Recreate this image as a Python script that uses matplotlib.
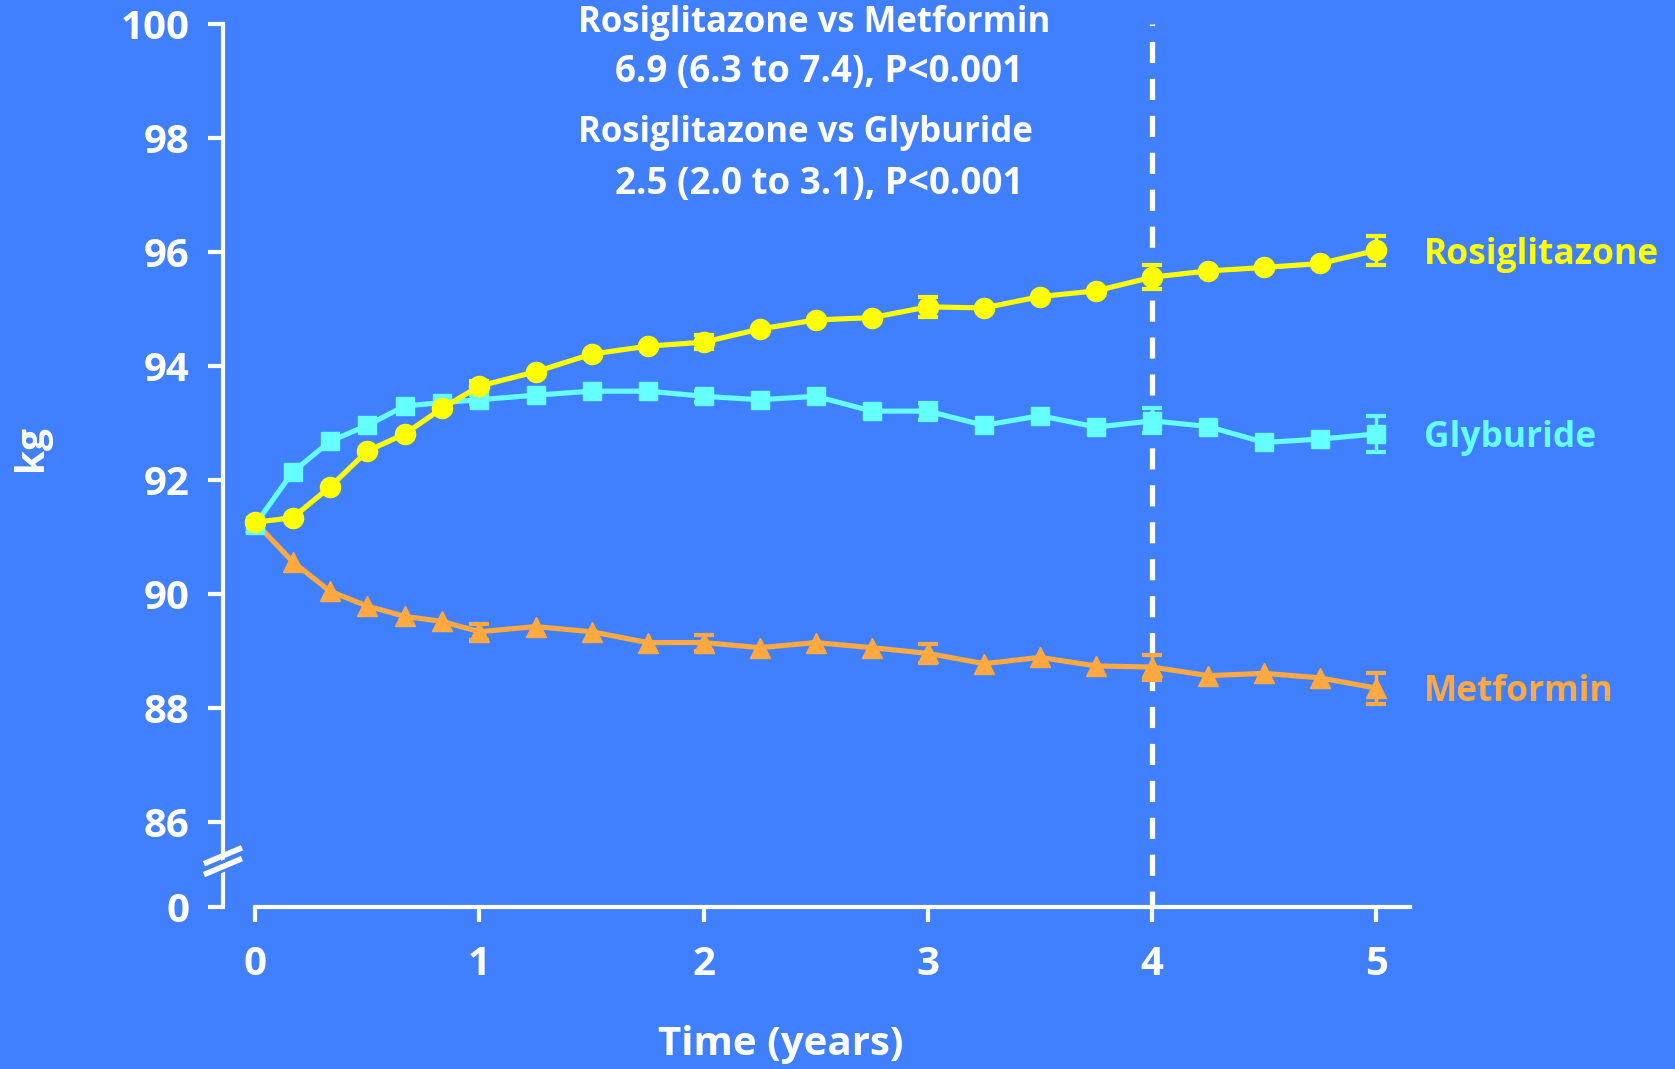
import matplotlib
matplotlib.use("Agg")
import matplotlib.pyplot as plt
import numpy as np

# Time points: every 2 months in year 1, then quarterly
years = [0, 1/6, 2/6, 3/6, 4/6, 5/6, 1, 1.25, 1.5, 1.75, 2, 2.25, 2.5, 2.75,
         3, 3.25, 3.5, 3.75, 4, 4.25, 4.5, 4.75, 5]

rosiglitazone = [91.25, 91.33, 91.87, 92.50, 92.80, 93.25, 93.64, 93.89, 94.20,
                 94.34, 94.41, 94.64, 94.80, 94.84, 95.03, 95.01, 95.21, 95.31,
                 95.55, 95.66, 95.72, 95.79, 96.02]
glyburide = [91.21, 92.13, 92.67, 92.95, 93.29, 93.35, 93.40, 93.48, 93.55,
             93.55, 93.46, 93.40, 93.46, 93.20, 93.20, 92.95, 93.12, 92.92,
             93.03, 92.93, 92.65, 92.71, 92.80]
metformin = [91.25, 90.56, 90.04, 89.78, 89.60, 89.51, 89.33, 89.42, 89.33,
             89.14, 89.14, 89.05, 89.14, 89.05, 88.95, 88.77, 88.88, 88.73,
             88.71, 88.56, 88.60, 88.52, 88.34]

# error bars shown at whole years only
err_years = [1, 2, 3, 4, 5]
rosi_err = [0.08, 0.12, 0.18, 0.21, 0.26]
gly_err = [0.08, 0.10, 0.15, 0.22, 0.31]
met_err = [0.14, 0.14, 0.16, 0.22, 0.27]

series_names = ["Rosiglitazone", "Glyburide", "Metformin"]
annot_lines = ["Rosiglitazone vs Metformin", "6.9 (6.3 to 7.4), P<0.001",
               "Rosiglitazone vs Glyburide", "2.5 (2.0 to 3.1), P<0.001"]

ytick_vals = [84.5, 86, 88, 90, 92, 94, 96, 98, 100]
ytick_labels = ["0", "86", "88", "90", "92", "94", "96", "98", "100"]
xtick_vals = [0, 1, 2, 3, 4, 5]

bg = "#4080FF"
c_rosi = "#FFFF00"
c_gly = "#66FFFF"
c_met = "#FFA940"

plt.rcParams['font.family'] = ['Open Sans', 'DejaVu Sans']
plt.rcParams['font.weight'] = 'bold'

fig = plt.figure(figsize=(16.75, 10.69), dpi=100, facecolor=bg)
ax = fig.add_axes([0.1331, 0.1515, 0.7087, 0.8265])
ax.set_facecolor(bg)

ax.set_xlim(-0.144, 5.15)
ax.set_ylim(84.5, 100)

lw = 3.7
ax.plot(years, rosiglitazone, color=c_rosi, lw=lw, marker='o', ms=14.5, zorder=5)
ax.plot(years, glyburide, color=c_gly, lw=lw, marker='s', ms=13, zorder=4)
ax.plot(years, metformin, color=c_met, lw=lw, marker='^', ms=14.5, zorder=3)

idx = [years.index(y) for y in err_years]
for vals, errs, col, z in [(rosiglitazone, rosi_err, c_rosi, 5),
                           (glyburide, gly_err, c_gly, 4),
                           (metformin, met_err, c_met, 3)]:
    ax.errorbar(err_years, [vals[i] for i in idx], yerr=errs, fmt='none',
                ecolor=col, elinewidth=2.5, capsize=7, capthick=3, zorder=z)

# dashed line at 4 years
ax.axvline(4, color='white', lw=3.8, linestyle=(1, (4.0, 3.0)), zorder=2)

# spines
for s in ['top', 'right']:
    ax.spines[s].set_visible(False)
ax.spines['left'].set_color('white')
ax.spines['left'].set_linewidth(3)
ax.spines['bottom'].set_color('white')
ax.spines['bottom'].set_linewidth(3)
ax.spines['bottom'].set_bounds(0, 5.15)

ax.set_yticks(ytick_vals)
ax.set_yticklabels(ytick_labels)
ax.set_xticks(xtick_vals)
ax.tick_params(axis='both', colors='white', width=3, length=11, labelsize=29,
               direction='out')
ax.tick_params(axis='y', pad=13)
ax.tick_params(axis='x', pad=16)
for lab in ax.get_xticklabels() + ax.get_yticklabels():
    lab.set_fontweight('bold')

# axis break on the y axis
ytr = ax.get_yaxis_transform()
bx = [-0.016, 0.016]
ax.fill([-0.016, 0.016, 0.016, -0.016], [85.17, 85.45, 85.26, 84.98],
        color=bg, transform=ytr, clip_on=False, zorder=10)
ax.plot(bx, [85.26, 85.54], color='white', lw=4, transform=ytr, clip_on=False,
        zorder=11, solid_capstyle='butt')
ax.plot(bx, [85.07, 85.35], color='white', lw=4, transform=ytr, clip_on=False,
        zorder=11, solid_capstyle='butt')

ax.set_ylabel("kg", color='white', fontsize=28, fontweight='bold')
ax.set_xlabel("Time (years)", color='white', fontsize=29, fontweight='bold')
ax.yaxis.set_label_coords(-0.145, 0.52)
ax.xaxis.set_label_coords(0.47, -0.133)

# annotation block
fs = 25
fs_num = 26.5
fig.text(578 / 1675, 1 - 23 / 1069, annot_lines[0], color='white', fontsize=fs,
         fontweight='bold', ha='left', va='center')
fig.text(615 / 1675, 1 - 72 / 1069, annot_lines[1], color='white', fontsize=fs_num,
         fontweight='bold', ha='left', va='center')
fig.text(578 / 1675, 1 - 133 / 1069, annot_lines[2], color='white', fontsize=fs,
         fontweight='bold', ha='left', va='center')
fig.text(615 / 1675, 1 - 184 / 1069, annot_lines[3], color='white', fontsize=fs_num,
         fontweight='bold', ha='left', va='center')

# series labels at the right
for name, vals, col in zip(series_names, [rosiglitazone, glyburide, metformin],
                           [c_rosi, c_gly, c_met]):
    ax.annotate(name, xy=(5, vals[-1]), xytext=(34, -3), textcoords='offset points',
                color=col, fontsize=25.5, fontweight='bold', ha='left', va='center',
                annotation_clip=False)

fig.savefig("out.png", dpi=100, facecolor=bg)
